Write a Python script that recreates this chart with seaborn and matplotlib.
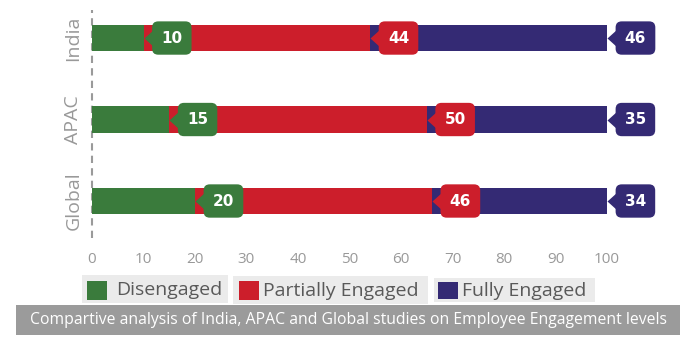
import matplotlib
matplotlib.use("Agg")
import matplotlib.pyplot as plt
import matplotlib.transforms as mtransforms
from matplotlib.patches import Rectangle
from matplotlib.markers import MarkerStyle
import numpy as np
import pandas as pd
import seaborn as sns

# ---- data ----
categories = ["India", "APAC", "Global"]
series_names = ["Disengaged", "Partially Engaged", "Fully Engaged"]
disengaged = [10, 15, 20]
partially = [44, 50, 46]
fully = [46, 35, 34]
x_ticks = [0, 10, 20, 30, 40, 50, 60, 70, 80, 90, 100]
caption = "Compartive analysis of India, APAC and Global studies on Employee Engagement levels"

colors = ["#3a7b3c", "#cc1e2b", "#342a74"]

sns.set_style("white")
plt.rcParams["font.family"] = ["Open Sans", "DejaVu Sans"]

W, H = 696, 338
fig = plt.figure(figsize=(W / 100, H / 100), dpi=100)

def fx(px):
    return px / W

def fy(py):
    return 1 - py / H

ax = fig.add_axes([fx(92), fy(238), fx(607) - fx(92), fy(10) - fy(238)])

vals = np.array([disengaged, partially, fully], dtype=float)
cums = np.cumsum(vals, axis=0)

df = pd.DataFrame({"category": categories})
for j, name in enumerate(series_names):
    df[name] = cums[j]

# draw from the longest cumulative bar to the shortest
for j in reversed(range(len(series_names))):
    sns.barplot(data=df, x=series_names[j], y="category", orient="h",
                color=colors[j], width=0.32, saturation=1, ax=ax, zorder=2,
                linewidth=0, edgecolor="none")

ax.set_xlim(0, 100)
ax.set_ylim(2.454, -0.344)
ax.set_xticks(x_ticks)
ax.set_xticklabels([str(t) for t in x_ticks])
ax.set_xlabel("")
ax.set_ylabel("")
for s in ax.spines.values():
    s.set_visible(False)
ax.tick_params(axis="x", length=0, pad=10, labelsize=11, labelcolor="#999999")
ax.tick_params(axis="y", length=0, pad=7, labelsize=14, labelcolor="#999999")
for lbl in ax.get_yticklabels():
    lbl.set_rotation(90)
    lbl.set_va("center")
ax.axvline(0, color="#9a9a9a", lw=1.5, ls=(0, (3.5, 2.5)), zorder=1, clip_on=False)

# callout labels
tri = MarkerStyle([(-1, 0), (0, 0.9), (0, -0.9), (-1, 0)])
tri_tr = mtransforms.offset_copy(ax.transData, fig=fig, x=10, y=0, units="dots")
for i in range(len(categories)):
    for j in range(len(series_names)):
        end = cums[j][i]
        ax.plot([end], [i], marker=tri, ms=14.4, color=colors[j], mec="none",
                transform=tri_tr, clip_on=False, zorder=5)
        ax.annotate(str(int(vals[j][i])), xy=(end, i), xytext=(12.8, 0),
                    textcoords="offset points", ha="left", va="center",
                    fontsize=11, fontweight="bold", color="white",
                    fontfamily="DejaVu Sans", zorder=6, annotation_clip=False,
                    bbox=dict(boxstyle="round,pad=0.6,rounding_size=0.4",
                              fc=colors[j], ec="none"))

# legend (drawn as figure patches)
legend_boxes = [(82, 228, 275, 303), (233, 428, 276, 304), (434, 595, 278, 302)]
squares = [(87, 107, 281, 300), (239, 259, 281, 300), (438, 458, 282, 299)]
text_x = [116, 263, 462]
for j, name in enumerate(series_names):
    x0, x1, y0, y1 = legend_boxes[j]
    fig.patches.append(Rectangle((fx(x0), fy(y1)), fx(x1) - fx(x0), fy(y0) - fy(y1),
                                 transform=fig.transFigure, fc="#ebebeb", ec="none"))
    sx0, sx1, sy0, sy1 = squares[j]
    fig.patches.append(Rectangle((fx(sx0), fy(sy1)), fx(sx1) - fx(sx0), fy(sy0) - fy(sy1),
                                 transform=fig.transFigure, fc=colors[j], ec="none"))
    fig.text(fx(text_x[j]), fy((y0 + y1) / 2 + 1), name, ha="left", va="center",
             fontsize=14, color="#595959")

# caption bar
fig.patches.append(Rectangle((fx(16), fy(335)), fx(680) - fx(16), fy(305) - fy(335),
                             transform=fig.transFigure, fc="#9b9b9b", ec="none"))
fig.text(fx(348), fy(320.5), caption, ha="center", va="center", fontsize=11.3, color="white")

fig.savefig("out.png", dpi=100)
